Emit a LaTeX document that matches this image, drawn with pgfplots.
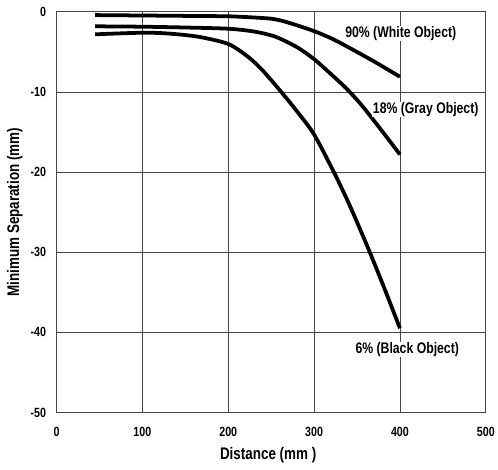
\documentclass[border=0pt]{standalone}
\usepackage{fontspec}
\setmainfont{Liberation Sans}[FakeStretch=0.8]
\usepackage{pgfplots}
\pgfplotsset{compat=1.18}
\usetikzlibrary{calc}

\definecolor{gridgray}{RGB}{70,70,70}

\begin{document}
\begin{tikzpicture}
\begin{axis}[
  name=main,
  scale only axis,
  width=433bp, height=404bp,
  xmin=0, xmax=500, ymin=-50, ymax=0,
  xtick={0,100,...,500},
  ytick={-50,-40,...,0},
  yticklabels={-50,-40,-30,-20,-10,0},
  major tick length=0pt,
  grid=major,
  major grid style={gridgray, line width=0.9pt},
  axis line style={gridgray, line width=0.9pt},
  tick label style={font=\fontsize{13.5}{15}\selectfont\bfseries},
  xticklabel style={yshift=-11pt},
  yticklabel style={xshift=-7pt},
  label style={font=\fontsize{17}{19}\selectfont\bfseries},
  xlabel={Distance (mm )},
  ylabel={Minimum Separation (mm)},
  xlabel style={at={(axis description cs:0.493,-0.1064)}, anchor=center},
  ylabel style={at={(axis description cs:-0.097,0.5)}, anchor=center},
  /pgf/number format/assume math mode=true,
  clip=false,
]
% 90% white object
\addplot[black, line width=3.8bp, smooth, tension=0.45] coordinates {
  (45,-0.4) (100,-0.45) (150,-0.5) (200,-0.55) (230,-0.7) (250,-0.85)
  (262,-1.1) (275,-1.5) (300,-2.4) (320,-3.3) (338,-4.3) (370,-6.2) (400,-8.1)
};
% 18% gray object
\addplot[black, line width=3.8bp, smooth, tension=0.45] coordinates {
  (45,-1.8) (100,-1.85) (150,-1.95) (200,-2.1) (230,-2.45) (255,-3.1)
  (280,-4.4) (300,-5.9) (320,-7.8) (338,-9.6) (355,-11.6) (375,-14.3) (400,-17.8)
};
% 6% black object
\addplot[black, line width=3.8bp, smooth, tension=0.45] coordinates {
  (45,-2.8) (100,-2.6) (130,-2.7) (165,-3.1) (200,-4.0) (223,-5.6)
  (240,-7.3) (261,-9.9) (280,-12.4) (300,-15.3) (323,-20) (340,-23.8)
  (361,-29) (380,-34.0) (400,-39.5)
};
\node[fill=white, inner sep=0.5pt, font=\fontsize{15.5}{17}\selectfont\bfseries]
  at (axis cs:401,-2.7) {90\% (White Object)};
\node[fill=white, inner sep=0.5pt, font=\fontsize{15.5}{17}\selectfont\bfseries]
  at (axis cs:430,-12.2) {18\% (Gray Object)};
\node[fill=white, inner sep=0.5pt, font=\fontsize{15.5}{17}\selectfont\bfseries]
  at (axis cs:408.5,-42.1) {6\% (Black Object)};
\end{axis}
\path ($(main.south west)+(-57bp,-58bp)$) rectangle ($(main.north east)+(8bp,12bp)$);
\end{tikzpicture}
\end{document}
